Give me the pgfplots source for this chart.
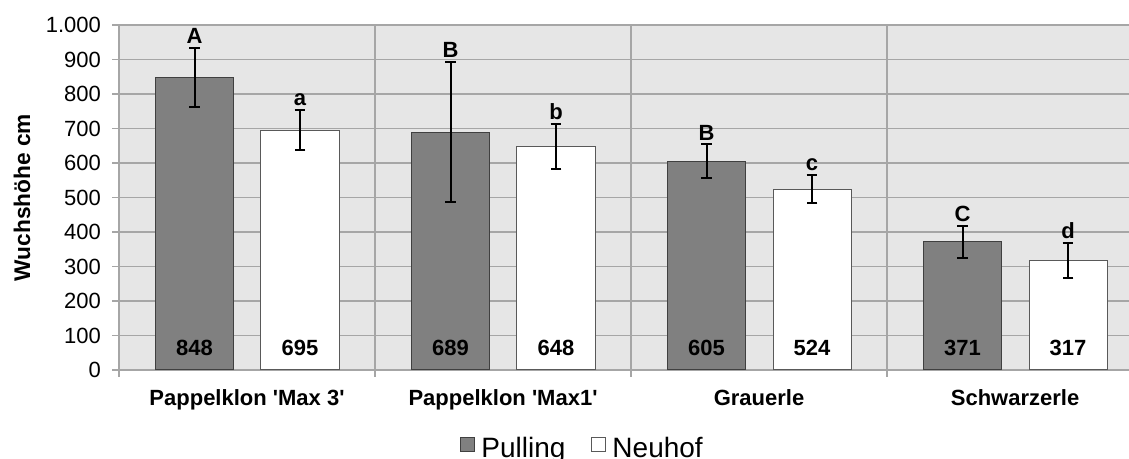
\documentclass[border=0pt]{standalone}
\usepackage{pgfplots}
\pgfplotsset{compat=1.18}
\usepackage{fontspec}
\setmainfont{Liberation Sans}
\usetikzlibrary{calc}

\definecolor{bgfill}{HTML}{E6E6E6}
\definecolor{gridc}{HTML}{A6A6A6}
\definecolor{pull}{HTML}{808080}

\begin{document}
\begin{tikzpicture}
\begin{axis}[name=ax,
  scale only axis, width=757.5pt, height=258.75pt,
  xmin=-0.5, xmax=3.445, ymin=0, ymax=1000,
  clip=false,
  axis background/.style={fill=bgfill},
  axis x line*=bottom, axis y line*=left,
  axis line style={gridc, line width=1pt, -},
  ytick={0,100,...,1000},
  xtick={-0.5,0.5,1.5,2.5}, xticklabels={},
  grid=major, major grid style={gridc, line width=1pt},
  extra x ticks={0,1,2,3},
  extra x tick labels={Pappelklon \textquotesingle Max 3\textquotesingle, Pappelklon \textquotesingle Max1\textquotesingle, Grauerle, Schwarzerle},
  extra x tick style={grid=none, major tick length=0pt},
  tick align=outside,
  major tick length=5pt,
  tick style={gridc, line width=1pt},
  /pgf/number format/assume math mode=true,
  /pgf/number format/1000 sep={.},
  yticklabel style={font=\fontsize{16.5}{19}\selectfont, xshift=-5pt},
  xticklabel style={font=\bfseries\fontsize{16.5}{19}\selectfont, yshift=-11pt},
  ylabel={Wuchshöhe cm},
  every axis y label/.style={at={(rel axis cs:-0.096,0.5)}, rotate=90, anchor=center, font=\bfseries\fontsize{17}{20}\selectfont},
  legend style={draw=none, fill=none, at={(0.459,-0.226)}, anchor=center,
    font=\fontsize{21}{24}\selectfont, legend columns=2,
    /tikz/every even column/.append style={column sep=17pt}},
  legend image code/.code={\draw[#1, line width=0.75pt] (-3pt,-3pt) rectangle (8pt,8pt); \path (10.5pt,0pt);},
]
\addplot[ybar, bar width=0.305, bar shift=0pt, fill=pull, draw=black!75, line width=0.75pt,
  error bars/.cd, y dir=both, y explicit,
  error bar style={black, line width=1.5pt},
  error mark options={black, line width=1.5pt, mark size=4pt, rotate=90}]
  coordinates {(-0.205,848) +- (0,86) (0.795,689) +- (0,203) (1.795,605) +- (0,49) (2.795,371) +- (0,46)};
\addlegendentry{Pulling}
\addplot[ybar, bar width=0.305, bar shift=0pt, fill=white, draw=black!65, line width=0.75pt,
  error bars/.cd, y dir=both, y explicit,
  error bar style={black, line width=1.5pt},
  error mark options={black, line width=1.5pt, mark size=4pt, rotate=90}]
  coordinates {(0.207,695) +- (0,58) (1.207,648) +- (0,66) (2.207,524) +- (0,41) (3.207,317) +- (0,50)};
\addlegendentry{Neuhof}
% Signifikanzbuchstaben
\addplot[draw=none, mark=none, forget plot, nodes near coords, point meta=explicit symbolic,
  nodes near coords style={font=\bfseries\fontsize{16.5}{19}\selectfont, anchor=south, inner sep=0pt, yshift=3pt}]
  coordinates {(-0.205,934)[A] (0.795,892)[B] (1.795,654)[B] (2.795,417)[C]
               (0.207,753)[a] (1.207,714)[b] (2.207,565)[c] (3.207,367)[d]};
% Mittelwerte
\addplot[draw=none, mark=none, forget plot, nodes near coords, point meta=explicit symbolic,
  nodes near coords style={font=\bfseries\fontsize{16.5}{19}\selectfont, anchor=base, inner sep=0pt}]
  coordinates {(-0.205,41)[848] (0.795,41)[689] (1.795,41)[605] (2.795,41)[371]
               (0.207,41)[695] (1.207,41)[648] (2.207,41)[524] (3.207,41)[317]};
\end{axis}
\pgfresetboundingbox
\path ($(ax.south west)+(-89.25pt,-66.75pt)$) rectangle ($(ax.north east)+(0pt,18.75pt)$);
\end{tikzpicture}
\end{document}
